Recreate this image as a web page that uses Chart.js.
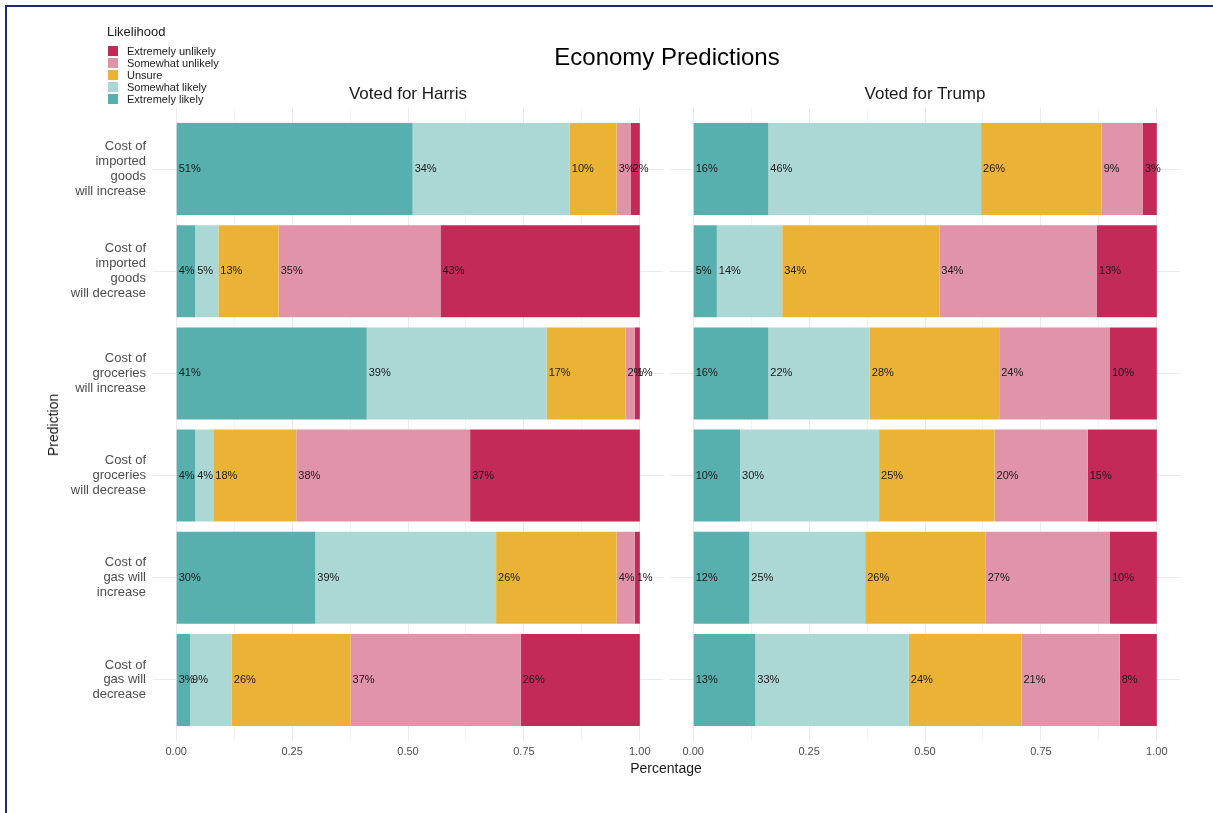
<!DOCTYPE html>
<html lang="en">
<head>
  <meta charset="UTF-8">
  <title>Economy Predictions</title>
  <script src="https://cdn.jsdelivr.net/npm/chart.js"></script>
  <style>
    body {
      margin: 0;
      width: 1213px;
      height: 813px;
      background: #fff;
      font-family: "Liberation Sans", Arial, sans-serif;
      position: relative;
      overflow: hidden;
    }
    .frame {
      position: absolute;
      left: 5px;
      top: 5px;
      width: 1300px;
      height: 900px;
      border-top: 2px solid #1e2a6c;
      border-left: 2px solid #1e2a6c;
    }
    canvas { position: absolute; top: 0; }
    .txt {
      position: absolute;
      transform: translate(-50%, -50%);
      white-space: nowrap;
      color: #1a1a1a;
    }
    .legend {
      position: absolute;
      left: 107px;
      top: 24px;
      font-size: 11px;
      color: #1a1a1a;
    }
    .legend .head { font-size: 13px; margin-bottom: 6px; }
    .legend .row { display: flex; align-items: center; height: 12px; }
    .legend .key { width: 10px; height: 10px; margin: 0 9px 0 1px; }
  </style>
</head>
<body>
  <div class="frame"></div>
  <canvas id="harrisChart" width="670" height="813" style="left:0"></canvas>
  <canvas id="trumpChart" width="543" height="813" style="left:670px"></canvas>

  <div class="txt" style="left:667px; top:57px; font-size:24px; color:#000">Economy Predictions</div>
  <div class="txt" style="left:408px; top:94px; font-size:17px">Voted for Harris</div>
  <div class="txt" style="left:925px; top:94px; font-size:17px">Voted for Trump</div>
  <div class="txt" style="left:666px; top:768px; font-size:14px">Percentage</div>
  <div class="txt" style="left:53px; top:425px; font-size:14px; transform: translate(-50%, -50%) rotate(-90deg)">Prediction</div>
  <div class="legend" id="legend"><div class="head">Likelihood</div></div>

  <script>
    const predictions = [
      ["Cost of", "imported", "goods", "will increase"],
      ["Cost of", "imported", "goods", "will decrease"],
      ["Cost of", "groceries", "will increase"],
      ["Cost of", "groceries", "will decrease"],
      ["Cost of", "gas will", "increase"],
      ["Cost of", "gas will", "decrease"]
    ];
    const likelihoods = ["Extremely likely", "Somewhat likely", "Unsure", "Somewhat unlikely", "Extremely unlikely"];
    const colors = ["#57afae", "#abd7d4", "#ebb335", "#e093a9", "#c32a58"];

    // shares per prediction, Harris voters
    const harrisExtLikely = [0.510, 0.041, 0.411, 0.041, 0.300, 0.030];
    const harrisSomeLikely = [0.339, 0.050, 0.388, 0.039, 0.390, 0.090];
    const harrisUnsure = [0.101, 0.130, 0.170, 0.179, 0.260, 0.256];
    const harrisSomeUnlikely = [0.030, 0.349, 0.020, 0.375, 0.039, 0.367];
    const harrisExtUnlikely = [0.020, 0.430, 0.011, 0.366, 0.011, 0.257];

    // shares per prediction, Trump voters
    const trumpExtLikely = [0.162, 0.051, 0.162, 0.101, 0.121, 0.134];
    const trumpSomeLikely = [0.459, 0.141, 0.219, 0.300, 0.250, 0.331];
    const trumpUnsure = [0.260, 0.339, 0.279, 0.249, 0.260, 0.243];
    const trumpSomeUnlikely = [0.089, 0.340, 0.239, 0.201, 0.268, 0.212];
    const trumpExtUnlikely = [0.030, 0.129, 0.101, 0.149, 0.101, 0.080];

    const xTicks = [0, 0.125, 0.25, 0.375, 0.5, 0.625, 0.75, 0.875, 1];

    Chart.defaults.font.family = '"Liberation Sans", Arial, sans-serif';

    // legend
    const legend = document.getElementById("legend");
    [4, 3, 2, 1, 0].forEach(i => {
      const row = document.createElement("div");
      row.className = "row";
      row.innerHTML = `<span class="key" style="background:${colors[i]}"></span>${likelihoods[i]}`;
      legend.appendChild(row);
    });

    const isMajor = v => Math.round(v * 1000) % 250 === 0;

    const segmentLabels = {
      id: "segmentLabels",
      afterDatasetsDraw(chart) {
        const ctx = chart.ctx;
        ctx.save();
        ctx.font = '11px "Liberation Sans", Arial, sans-serif';
        ctx.fillStyle = "#1a1a1a";
        ctx.textAlign = "left";
        ctx.textBaseline = "middle";
        chart.data.datasets.forEach((ds, di) => {
          chart.getDatasetMeta(di).data.forEach((bar, i) => {
            ctx.fillText(Math.round(ds.data[i] * 100) + "%", bar.base + 2, bar.y);
          });
        });
        ctx.restore();
      }
    };

    function makePanel(id, series, showY, padRight) {
      new Chart(document.getElementById(id), {
        type: "bar",
        data: {
          labels: predictions,
          datasets: series.map((data, i) => ({
            label: likelihoods[i],
            data,
            backgroundColor: colors[i],
            borderWidth: 0,
            barPercentage: 0.9,
            categoryPercentage: 1
          }))
        },
        options: {
          indexAxis: "y",
          responsive: false,
          animation: false,
          layout: { padding: { top: 108, right: padRight, bottom: 0, left: 0 } },
          plugins: { legend: { display: false }, tooltip: { enabled: false } },
          scales: {
            x: {
              type: "linear",
              stacked: true,
              min: -0.05,
              max: 1.05,
              afterBuildTicks: s => { s.ticks = xTicks.map(v => ({ value: v })); },
              afterFit: s => { s.height = 82; },
              ticks: {
                callback: v => isMajor(v) ? v.toFixed(2) : "",
                color: "#4d4d4d",
                font: { size: 11 },
                padding: 4,
                autoSkip: false,
                maxRotation: 0
              },
              grid: {
                color: c => isMajor(c.tick.value) ? "#ebebeb" : "#f5f5f5",
                drawTicks: true,
                tickLength: 10
              },
              border: { display: false }
            },
            xTop: {
              type: "linear",
              position: "top",
              min: -0.05,
              max: 1.05,
              afterBuildTicks: s => { s.ticks = xTicks.map(v => ({ value: v })); },
              afterFit: s => { s.height = 10; },
              ticks: { display: false },
              grid: {
                drawOnChartArea: false,
                color: c => isMajor(c.tick.value) ? "#ebebeb" : "#f5f5f5",
                tickLength: 10
              },
              border: { display: false }
            },
            y: {
              stacked: true,
              afterFit: s => { s.width = showY ? 153 : 0; },
              grid: { offset: false, color: "#ebebeb", drawTicks: false },
              border: { display: false },
              ticks: {
                display: showY,
                color: "#4d4d4d",
                font: { size: 13, lineHeight: 1.15 },
                padding: 7
              }
            }
          }
        },
        plugins: [segmentLabels]
      });
    }

    makePanel("harrisChart",
      [harrisExtLikely, harrisSomeLikely, harrisUnsure, harrisSomeUnlikely, harrisExtUnlikely],
      true, 7);
    makePanel("trumpChart",
      [trumpExtLikely, trumpSomeLikely, trumpUnsure, trumpSomeUnlikely, trumpExtUnlikely],
      false, 33);
  </script>
</body>
</html>
